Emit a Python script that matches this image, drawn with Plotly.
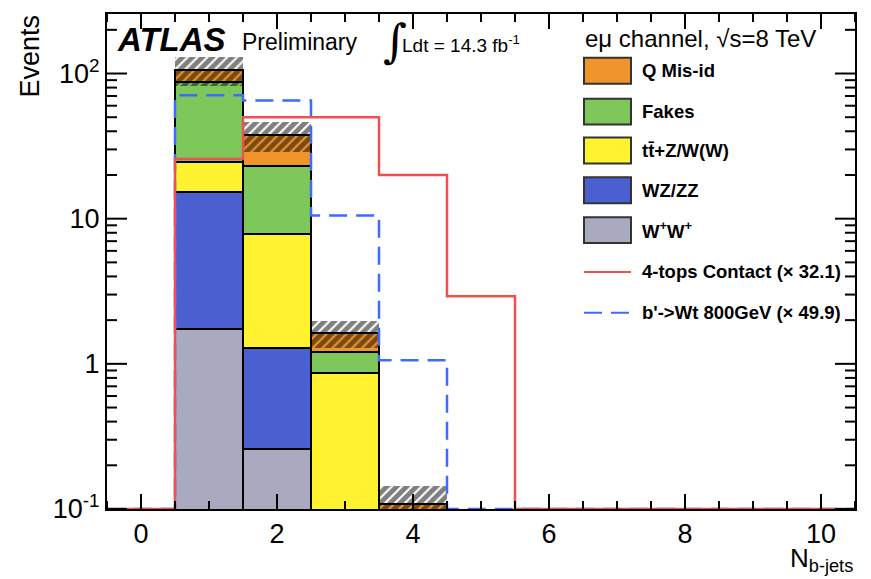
import math
import plotly.graph_objects as go

# ---- data: expected yields per N_b-jets bin (same-sign e-mu channel) ----
bins = [1, 2, 3, 4]
wpwp = [1.74, 0.258, 0.0, 0.0]        # W+W+
wzzz = [13.56, 1.03, 0.0, 0.0]        # WZ/ZZ
ttv = [9.3, 6.6, 0.867, 0.05]         # ttbar + Z/W(W)
fakes = [62.2, 15.2, 0.34, 0.025]     # fakes
qmisid = [19.7, 14.5, 0.42, 0.033]    # charge mis-id
syst = [24.0, 8.6, 0.34, 0.035]       # total uncertainty on the background

# signal templates (scaled), bins 0..10
sig_bins = list(range(11))
fourtops = [0, 25.8, 50.0, 50.0, 20.0, 2.92, 0, 0, 0, 0, 0]
bprime = [0, 70.7, 65.3, 10.5, 1.06, 0, 0, 0, 0, 0, 0]

# axis labelling
x_major = [0, 2, 4, 6, 8, 10]
y_major = [0.1, 1, 10, 100]
y_major_text = ["10<sup>-1</sup>", "1", "10", "10<sup>2</sup>"]

# ---- style ----
FLOOR = 1e-3
FONT = "Liberation Sans, Arial, Helvetica, sans-serif"
W, H = 871, 579
ML, MR, MT, MB = 107, 16, 12, 70
PW, PH = W - ML - MR, H - MT - MB
XR = [-0.5, 10.5]
YR = [-1, 2.41]
X_PER_PX = (XR[1] - XR[0]) / PW
DEC_PER_PX = (YR[1] - YR[0]) / PH
Y_LO, Y_HI = 10 ** YR[0], 10 ** YR[1]

components = [
    ("W<sup>+</sup>W<sup>+</sup>", wpwp, "#A9A9C0"),
    ("WZ/ZZ", wzzz, "#4A60D0"),
    ("tt\u0304+Z/W(W)", ttv, "#FFF230"),
    ("Fakes", fakes, "#7DC75B"),
    ("Q Mis-id", qmisid, "#F0952B"),
]


def px(x):
    return (x - ML) / PW


def py(y):
    return (H - MB - y) / PH


fig = go.Figure()

# stacked background histograms
base = [FLOOR] * len(bins)
for name, vals, col in components:
    fig.add_trace(go.Bar(
        x=bins, y=vals, base=list(base), width=1.0, name=name,
        marker=dict(color=col, line=dict(color="black", width=2)),
        opacity=1, showlegend=False,
    ))
    base = [b + v for b, v in zip(base, vals)]

total = [b - FLOOR for b in base]

# hatched uncertainty band
fig.add_trace(go.Bar(
    x=bins, y=[2 * s for s in syst], base=[t - s for t, s in zip(total, syst)],
    width=1.0, opacity=1, showlegend=False,
    marker=dict(color="rgba(0,0,0,0)", line=dict(width=0),
                pattern=dict(shape="/", fgcolor="black", bgcolor="rgba(0,0,0,0)",
                             size=7, solidity=0.7, fillmode="overlay")),
))


def step(vals):
    # empty bins sit on the lower frame edge, as in a ROOT histogram outline
    xs = [b - 0.5 for b in sig_bins] + [sig_bins[-1] + 0.5]
    ys = [max(v, Y_LO) for v in vals] + [max(vals[-1], Y_LO)]
    return xs, ys


xb, yb = step(bprime)
fig.add_trace(go.Scatter(x=xb, y=yb, mode="lines", line_shape="hv",
                         line=dict(color="#3D6BFF", width=2.5, dash="18px,9px"),
                         showlegend=False))
x4, y4 = step(fourtops)
fig.add_trace(go.Scatter(x=x4, y=y4, mode="lines", line_shape="hv",
                         line=dict(color="#F0504F", width=2.5), showlegend=False))

# ---- inside tick marks on all four sides (ROOT style), drawn as one line trace ----
tx, ty = [], []
for i in range(-1, 22):
    t = i * 0.5
    ln = 15 if t in x_major else 8
    d = 10 ** (ln * DEC_PER_PX)
    tx += [t, t, None, t, t, None]
    ty += [Y_LO, Y_LO * d, None, Y_HI, Y_HI / d, None]
for e in (-1, 0, 1, 2):
    for m in range(1, 10):
        v = m * 10 ** e
        if v < Y_LO or v > Y_HI:
            continue
        ln = 20 if m == 1 else 10
        dx = ln * X_PER_PX
        tx += [XR[0], XR[0] + dx, None, XR[1], XR[1] - dx, None]
        ty += [v, v, None, v, v, None]
fig.add_trace(go.Scatter(x=tx, y=ty, mode="lines", connectgaps=False,
                         line=dict(color="black", width=2),
                         showlegend=False, hoverinfo="skip"))

# ---- axes ----
fig.update_xaxes(
    range=XR, tickmode="array", tickvals=x_major, ticks="",
    showline=True, linewidth=2, linecolor="black", mirror=True,
    tickfont=dict(family=FONT, size=27, color="black"),
    showgrid=False, zeroline=False,
)
fig.update_yaxes(
    type="log", range=YR, tickmode="array", tickvals=y_major, ticktext=y_major_text,
    ticks="", showline=True, linewidth=2, linecolor="black", mirror=True,
    tickfont=dict(family=FONT, size=27, color="black"),
    showgrid=False, zeroline=False,
)

# ---- text ----
ann = []
shapes = []


def note(x, y, text, size, family=FONT, xanchor="left", yanchor="middle", **kw):
    ann.append(dict(x=x, y=y, xref="paper", yref="paper", text=text, showarrow=False,
                    xanchor=xanchor, yanchor=yanchor,
                    font=dict(family=family, size=size, color="black"), **kw))


note(px(30), py(11), "Events", 27, xanchor="center", yanchor="top", textangle=-90)
note(1, py(560), "N<sub>b-jets</sub>", 26, xanchor="right")
note(px(115), py(38), "<b><i>ATLAS</i></b>", 33)
note(px(240), py(40), "Preliminary", 23)
note(px(381), py(39), "\u222b", 46, family="DejaVu Serif")
note(px(400), py(42), "Ldt = 14.3 fb<sup>-1</sup>", 19)
note(px(583), py(37), "e\u03bc channel, \u221as=8 TeV", 24)

legend_rows = [69, 110, 149, 189, 229]
for (name, vals, col), yc in zip(reversed(components), legend_rows):
    shapes.append(dict(type="rect", xref="paper", yref="paper",
                       x0=px(584), x1=px(631), y0=py(yc + 13), y1=py(yc - 13),
                       fillcolor=col, line=dict(color="#333333", width=2)))
    note(px(640), py(yc), "<b>%s</b>" % name, 18.5)

line_rows = [
    (271, "4-tops Contact (\u00d7 32.1)", "#F0504F", "solid"),
    (312, "b'->Wt 800GeV (\u00d7 49.9)", "#3D6BFF", "18px,9px"),
]
for yc, label, col, dash in line_rows:
    shapes.append(dict(type="line", xref="paper", yref="paper",
                       x0=px(584), x1=px(631), y0=py(yc), y1=py(yc),
                       line=dict(color=col, width=2, dash=dash)))
    note(px(640), py(yc), "<b>%s</b>" % label, 18.5)

fig.update_layout(
    width=W, height=H, barmode="overlay", bargap=0,
    margin=dict(l=ML, r=MR, t=MT, b=MB),
    plot_bgcolor="white", paper_bgcolor="white",
    annotations=ann, shapes=shapes, showlegend=False,
)

fig.write_html("out.html")
